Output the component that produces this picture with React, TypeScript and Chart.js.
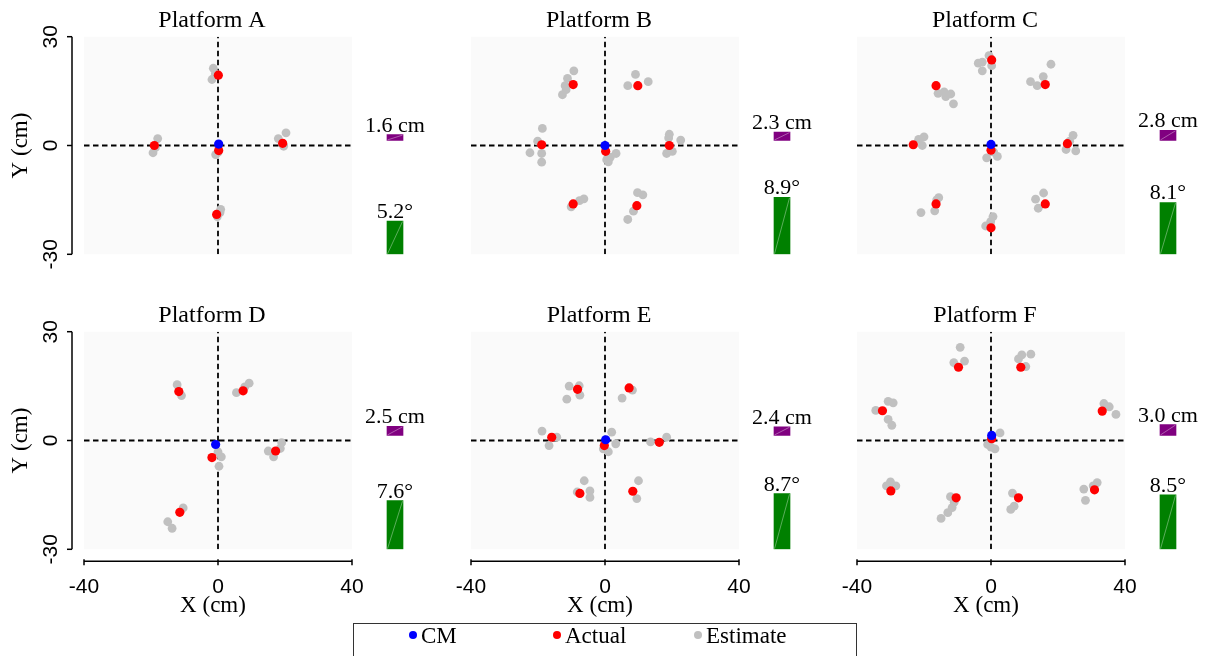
import React, { useEffect, useRef } from 'react';
import { Chart, registerables } from 'chart.js';

Chart.register(...registerables);

// ---------------- data ----------------
const PANEL_TITLES = ['Platform A', 'Platform B', 'Platform C', 'Platform D', 'Platform E', 'Platform F'];

const X_TICKS = [-40, 0, 40];
const Y_TICKS = [-30, 0, 30];
const X_MIN = -40, X_MAX = 40, Y_MIN = -30, Y_MAX = 30;

const CM_X = [0.2, 0, 0, -0.7, 0.2, 0.2];
const CM_Y = [0.4, 0, 0.3, -1.1, 0.2, 1.4];

const ACTUAL_A = [[0.1, 19.4], [-19, 0], [19.3, 0.6], [-0.4, -19], [0.2, -1.4]];
const ESTIMATE_A = [[-1.4, 21.3], [-1.8, 18.2], [-0.8, 19.8], [-18, 1.9], [-19.4, -2], [-18.7, -0.6], [20.3, 3.5], [18, 1.9], [19.6, -0.2], [0.8, -17.6], [-0.2, -19.6], [0.6, -18.5], [-0.7, -2.5], [0, -1.9]];

const ACTUAL_B = [[-9.5, 16.8], [9.8, 16.5], [-18.9, 0.2], [19.2, 0], [0.2, -1.6], [-9.5, -16.1], [9.5, -16.6]];
const ESTIMATE_B = [[-9.3, 20.6], [-11.2, 18.5], [-11.9, 16.5], [-12.7, 14], [-11.6, 15.4], [9.1, 19.6], [12.9, 17.6], [6.8, 16.5], [-18.7, 4.7], [-20.1, 1.2], [-22.4, -2], [-18.9, -2.2], [-18.9, -4.6], [19.2, 3.1], [22.6, 1.5], [18.4, -2.2], [20.1, -1.6], [19, 2.1], [3.3, -2.2], [1, -4.5], [0.5, -3.9], [1.6, -3.2], [-6.3, -14.7], [-7.6, -15.2], [-10.1, -16.9], [9.7, -13], [11.3, -13.6], [8.5, -18.1], [6.8, -20.4]];

const ACTUAL_C = [[0.2, 23.6], [-16.4, 16.5], [16.2, 16.8], [-23.2, 0.2], [22.8, 0.5], [0, -1.3], [-16.4, -16.1], [16.2, -16.1], [0, -22.7]];
const ESTIMATE_C = [[-2.6, 23], [-3.8, 22.7], [0.2, 22], [-2.6, 20.6], [-0.6, 24.8], [-15.8, 14.4], [-14, 14.8], [-12, 14.2], [-11.2, 11.5], [-13.5, 13.5], [17.9, 22.4], [11.8, 17.6], [13.8, 16.5], [15.6, 19], [-20, 2.4], [-21.6, 1.7], [-20.5, 0], [24.5, 2.8], [25.3, -1.5], [22.4, -1.1], [23.5, 1.2], [-1.3, -3.4], [1.9, -3], [0.8, -1.8], [-15.6, -14.4], [-16.8, -18], [-20.9, -18.5], [-16.2, -15], [15.7, -13.1], [13.3, -14.8], [14.1, -17.3], [0.6, -19.6], [-1.6, -22.2], [-0.1, -21]];

const ACTUAL_D = [[-11.7, 13.5], [7.5, 13.7], [-1.8, -4.7], [17.2, -2.9], [-11.4, -19.8]];
const ESTIMATE_D = [[-12.2, 15.4], [-10.9, 12.4], [9.3, 15.8], [5.5, 13.2], [8, 14.8], [1, -4.5], [0.3, -7.1], [0, -3.1], [15, -2.9], [16.6, -4.5], [19, -0.6], [18.6, -2.2], [-10.4, -18.6], [-15, -22.4], [-13.7, -24.2]];

const ACTUAL_E = [[-8.2, 14.1], [7.2, 14.5], [-15.9, 0.9], [16.2, -0.5], [-0.2, -1.4], [-7.5, -14.6], [8.3, -14]];
const ESTIMATE_E = [[-10.7, 15], [-7.7, 15.1], [-11.4, 11.4], [-7.5, 12.5], [8.2, 13.9], [5.1, 11.7], [-18.8, 2.6], [-14.4, 0.9], [-16.7, -1.4], [13.6, -0.4], [18.4, 0.9], [2, 2.3], [3.2, -0.9], [-0.5, -2.3], [1, -3.1], [-6.2, -11.1], [-4.5, -13.9], [-4.5, -15.7], [-8.3, -14.2], [10, -11.1], [9.5, -16]];

const ACTUAL_F = [[-9.7, 20.2], [8.9, 20.2], [-32.4, 8.2], [33.2, 8.1], [0.2, 0.5], [-29.9, -13.9], [-10.4, -15.8], [8.2, -15.8], [30.9, -13.6]];
const ESTIMATE_F = [[-9.2, 25.7], [-11.1, 21.5], [-7.9, 21.9], [9.2, 23.6], [11.9, 23.8], [10.4, 20.4], [8.2, 22.5], [-30.7, 10.8], [-29.2, 10.4], [-34.4, 8.3], [-30.7, 5.8], [-29.6, 4.2], [33.7, 10.2], [35.3, 9.3], [37.3, 7.2], [2.7, 2.1], [-1, -1.1], [1.2, -2.3], [0, -1.8], [-30, -11.4], [-31.2, -12.5], [-28.4, -12.5], [-12.1, -15.5], [-11.6, -18.5], [-12.9, -19.9], [-14.9, -21.5], [-11, -17], [6.4, -14.5], [6.9, -18.1], [5.9, -19], [31.7, -11.6], [27.7, -13.4], [28.2, -16.5], [30.5, -12.5]];

const ERR_CM = [1.6, 2.3, 2.8, 2.5, 2.4, 3.0];
const ERR_DEG = [5.2, 8.9, 8.1, 7.6, 8.7, 8.5];

const ACTUAL = [ACTUAL_A, ACTUAL_B, ACTUAL_C, ACTUAL_D, ACTUAL_E, ACTUAL_F];
const ESTIMATE = [ESTIMATE_A, ESTIMATE_B, ESTIMATE_C, ESTIMATE_D, ESTIMATE_E, ESTIMATE_F];

const LEGEND_ITEMS = [
  { label: 'CM', color: '#0000ff' },
  { label: 'Actual', color: '#ff0000' },
  { label: 'Estimate', color: '#c0c0c0' },
];

// ---------------- layout / style ----------------
const PAGE_W = 1217, PAGE_H = 656;
const SERIF = '"Liberation Serif", "Times New Roman", Times, serif';
const SANS = '"Liberation Sans", Arial, Helvetica, sans-serif';
const PLOT_LEFT = [84, 471, 857];
const PLOT_W = 268;
const PLOT_TOP = [36.7, 331.7];
const PLOT_H = 217.6;
const BAR_OFFSET = 311;          // bar centre relative to plot left
const BAR_CM_BASE = 1.4;         // vertical start of the cm-error bar (y units)
const DEG_AXIS_MAX = 34;

const toXY = (arr: number[][]) => arr.map(([x, y]) => ({ x, y }));

const panelDecor = {
  id: 'panelDecor',
  beforeDatasetsDraw(chart: any) {
    const { ctx, chartArea: a } = chart;
    ctx.save();
    ctx.fillStyle = '#fafafa';
    ctx.fillRect(a.left, a.top, a.right - a.left, a.bottom - a.top);
    ctx.restore();
  },
  afterDraw(chart: any, _args: any, opts: any) {
    const { ctx, chartArea: a, scales } = chart;
    const xs = scales.x, ys = scales.y;
    ctx.save();
    ctx.fillStyle = '#000';
    ctx.strokeStyle = '#000';
    // title
    ctx.font = `24px ${SERIF}`;
    ctx.textAlign = 'center';
    ctx.textBaseline = 'alphabetic';
    ctx.fillText(opts.title, (a.left + a.right) / 2 - 6, a.top - 10);

    if (opts.showY) {
      const ax = a.left - 12;
      ctx.lineWidth = 1.5;
      ctx.beginPath();
      ctx.moveTo(ax, ys.getPixelForValue(Y_MAX));
      ctx.lineTo(ax, ys.getPixelForValue(Y_MIN));
      ctx.stroke();
      for (const t of Y_TICKS) {
        const py = ys.getPixelForValue(t);
        ctx.beginPath();
        ctx.moveTo(ax - 5, py);
        ctx.lineTo(ax, py);
        ctx.stroke();
        ctx.save();
        ctx.translate(ax - 21, py);
        ctx.rotate(-Math.PI / 2);
        ctx.font = `21px ${SANS}`;
        ctx.textAlign = 'center';
        ctx.textBaseline = 'middle';
        ctx.fillText(String(t), 0, 0);
        ctx.restore();
      }
      ctx.save();
      ctx.translate(21, (a.top + a.bottom) / 2);
      ctx.rotate(-Math.PI / 2);
      ctx.font = `23px ${SERIF}`;
      ctx.textAlign = 'center';
      ctx.textBaseline = 'middle';
      ctx.fillText('Y (cm)', 0, 0);
      ctx.restore();
    }
    if (opts.showX) {
      const ay = a.bottom + 12;
      ctx.lineWidth = 1.5;
      ctx.beginPath();
      ctx.moveTo(xs.getPixelForValue(X_MIN), ay);
      ctx.lineTo(xs.getPixelForValue(X_MAX), ay);
      ctx.stroke();
      ctx.font = `21px ${SANS}`;
      ctx.textAlign = 'center';
      ctx.textBaseline = 'alphabetic';
      for (const t of X_TICKS) {
        const px = xs.getPixelForValue(t);
        ctx.beginPath();
        ctx.moveTo(px, ay - 2);
        ctx.lineTo(px, ay + 4);
        ctx.stroke();
        ctx.fillText(String(t), px, ay + 32);
      }
      ctx.font = `23px ${SERIF}`;
      ctx.fillText('X (cm)', (a.left + a.right) / 2 - 5, ay + 51);
    }
    ctx.restore();
  },
};

const barDecor = {
  id: 'barDecor',
  afterDatasetsDraw(chart: any, _args: any, opts: any) {
    const { ctx } = chart;
    ctx.save();
    chart.data.datasets.forEach((ds: any, di: number) => {
      const meta = chart.getDatasetMeta(di);
      meta.data.forEach((el: any) => {
        const top = Math.min(el.y, el.base);
        const bottom = Math.max(el.y, el.base);
        const left = el.x - el.width / 2;
        const right = el.x + el.width / 2;
        ctx.strokeStyle = 'rgba(255,255,255,0.45)';
        ctx.lineWidth = 0.8;
        ctx.beginPath();
        ctx.moveTo(left + 0.5, bottom - 0.5);
        ctx.lineTo(right - 0.5, top + 0.5);
        ctx.stroke();
        ctx.fillStyle = '#000';
        ctx.font = `22px ${SERIF}`;
        ctx.textAlign = 'center';
        ctx.textBaseline = 'alphabetic';
        const txt = opts.labels[di];
        ctx.fillText(txt, el.x, top - 3);
      });
    });
    ctx.restore();
  },
};

function scatterConfig(i: number): any {
  const col = i % 3, row = Math.floor(i / 3);
  const L = PLOT_LEFT[col], T = PLOT_TOP[row];
  const pt = { pointBorderWidth: 0, pointHoverRadius: 0 };
  return {
    type: 'scatter',
    data: {
      datasets: [
        { label: 'CM', data: [{ x: CM_X[i], y: CM_Y[i] }], backgroundColor: '#0000ff', pointRadius: 4.6, order: 0, ...pt },
        { label: 'Actual', data: toXY(ACTUAL[i]), backgroundColor: '#ff0000', pointRadius: 4.6, order: 1, ...pt },
        { label: 'Estimate', data: toXY(ESTIMATE[i]), backgroundColor: '#c0c0c0', pointRadius: 4.4, order: 2, ...pt },
        { label: 'h0', data: [{ x: X_MIN, y: 0 }, { x: X_MAX, y: 0 }], showLine: true, borderColor: '#000', borderWidth: 1.8, borderDash: [5.5, 3.5], pointRadius: 0, order: 3 },
        { label: 'v0', data: [{ x: 0, y: Y_MIN }, { x: 0, y: Y_MAX }], showLine: true, borderColor: '#000', borderWidth: 1.8, borderDash: [5.5, 3.5], pointRadius: 0, order: 3 },
      ],
    },
    options: {
      animation: false,
      responsive: false,
      maintainAspectRatio: false,
      events: [],
      layout: { padding: { left: L, top: T, right: PAGE_W - L - PLOT_W, bottom: PAGE_H - T - PLOT_H } },
      scales: {
        x: { type: 'linear', display: false, min: X_MIN, max: X_MAX },
        y: { type: 'linear', display: false, min: Y_MIN, max: Y_MAX },
      },
      plugins: {
        legend: { display: false },
        tooltip: { enabled: false },
        panelDecor: { title: PANEL_TITLES[i], showY: col === 0, showX: row === 1 },
      },
    },
    plugins: [panelDecor],
  };
}

function barConfig(i: number): any {
  const col = i % 3, row = Math.floor(i / 3);
  const cx = PLOT_LEFT[col] + BAR_OFFSET;
  const T = PLOT_TOP[row];
  return {
    type: 'bar',
    data: {
      labels: ['error'],
      datasets: [
        { label: 'cm', data: [[BAR_CM_BASE, BAR_CM_BASE + ERR_CM[i]]], backgroundColor: '#800080', yAxisID: 'y', grouped: false, barThickness: 16 },
        { label: 'deg', data: [ERR_DEG[i]], backgroundColor: '#008000', yAxisID: 'yd', grouped: false, barThickness: 16 },
      ],
    },
    options: {
      animation: false,
      responsive: false,
      maintainAspectRatio: false,
      events: [],
      layout: { padding: { left: cx - 30, right: PAGE_W - cx - 30, top: T, bottom: PAGE_H - T - PLOT_H } },
      scales: {
        x: { display: false },
        y: { display: false, min: Y_MIN, max: Y_MAX },
        yd: { display: false, min: 0, max: DEG_AXIS_MAX, position: 'right' },
      },
      plugins: {
        legend: { display: false },
        tooltip: { enabled: false },
        barDecor: { labels: [`${ERR_CM[i].toFixed(1)} cm`, `${ERR_DEG[i].toFixed(1)}°`] },
      },
    },
    plugins: [barDecor],
  };
}

export default function App() {
  const refs = useRef<(HTMLCanvasElement | null)[]>([]);
  useEffect(() => {
    const charts: Chart[] = [];
    for (let i = 0; i < 6; i++) {
      const c1 = refs.current[2 * i];
      const c2 = refs.current[2 * i + 1];
      if (c1) charts.push(new Chart(c1, scatterConfig(i)));
      if (c2) charts.push(new Chart(c2, barConfig(i)));
    }
    return () => charts.forEach((c) => c.destroy());
  }, []);

  const canvasStyle: React.CSSProperties = { position: 'absolute', left: 0, top: 0, width: PAGE_W, height: PAGE_H, display: 'block' };

  return (
    <div style={{ position: 'absolute', left: 0, top: 0, width: PAGE_W, height: PAGE_H, overflow: 'hidden', background: '#fff' }}>
      {Array.from({ length: 12 }).map((_, k) => (
        <canvas key={k} ref={(el) => { refs.current[k] = el; }} width={PAGE_W} height={PAGE_H} style={canvasStyle} />
      ))}
      <div style={{ position: 'absolute', left: 353, top: 623, width: 504, height: 50, border: '1.5px solid #333', boxSizing: 'border-box' }} />
      {LEGEND_ITEMS.map((it, k) => {
        const dotX = [413, 557, 698][k];
        return (
          <React.Fragment key={it.label}>
            <span style={{ position: 'absolute', left: dotX - 4, top: 631, width: 8, height: 8, borderRadius: '50%', background: it.color }} />
            <span style={{ position: 'absolute', left: dotX + 8, top: 624, font: `23px ${SERIF}`, lineHeight: '23px', color: '#000', whiteSpace: 'nowrap' }}>{it.label}</span>
          </React.Fragment>
        );
      })}
    </div>
  );
}
